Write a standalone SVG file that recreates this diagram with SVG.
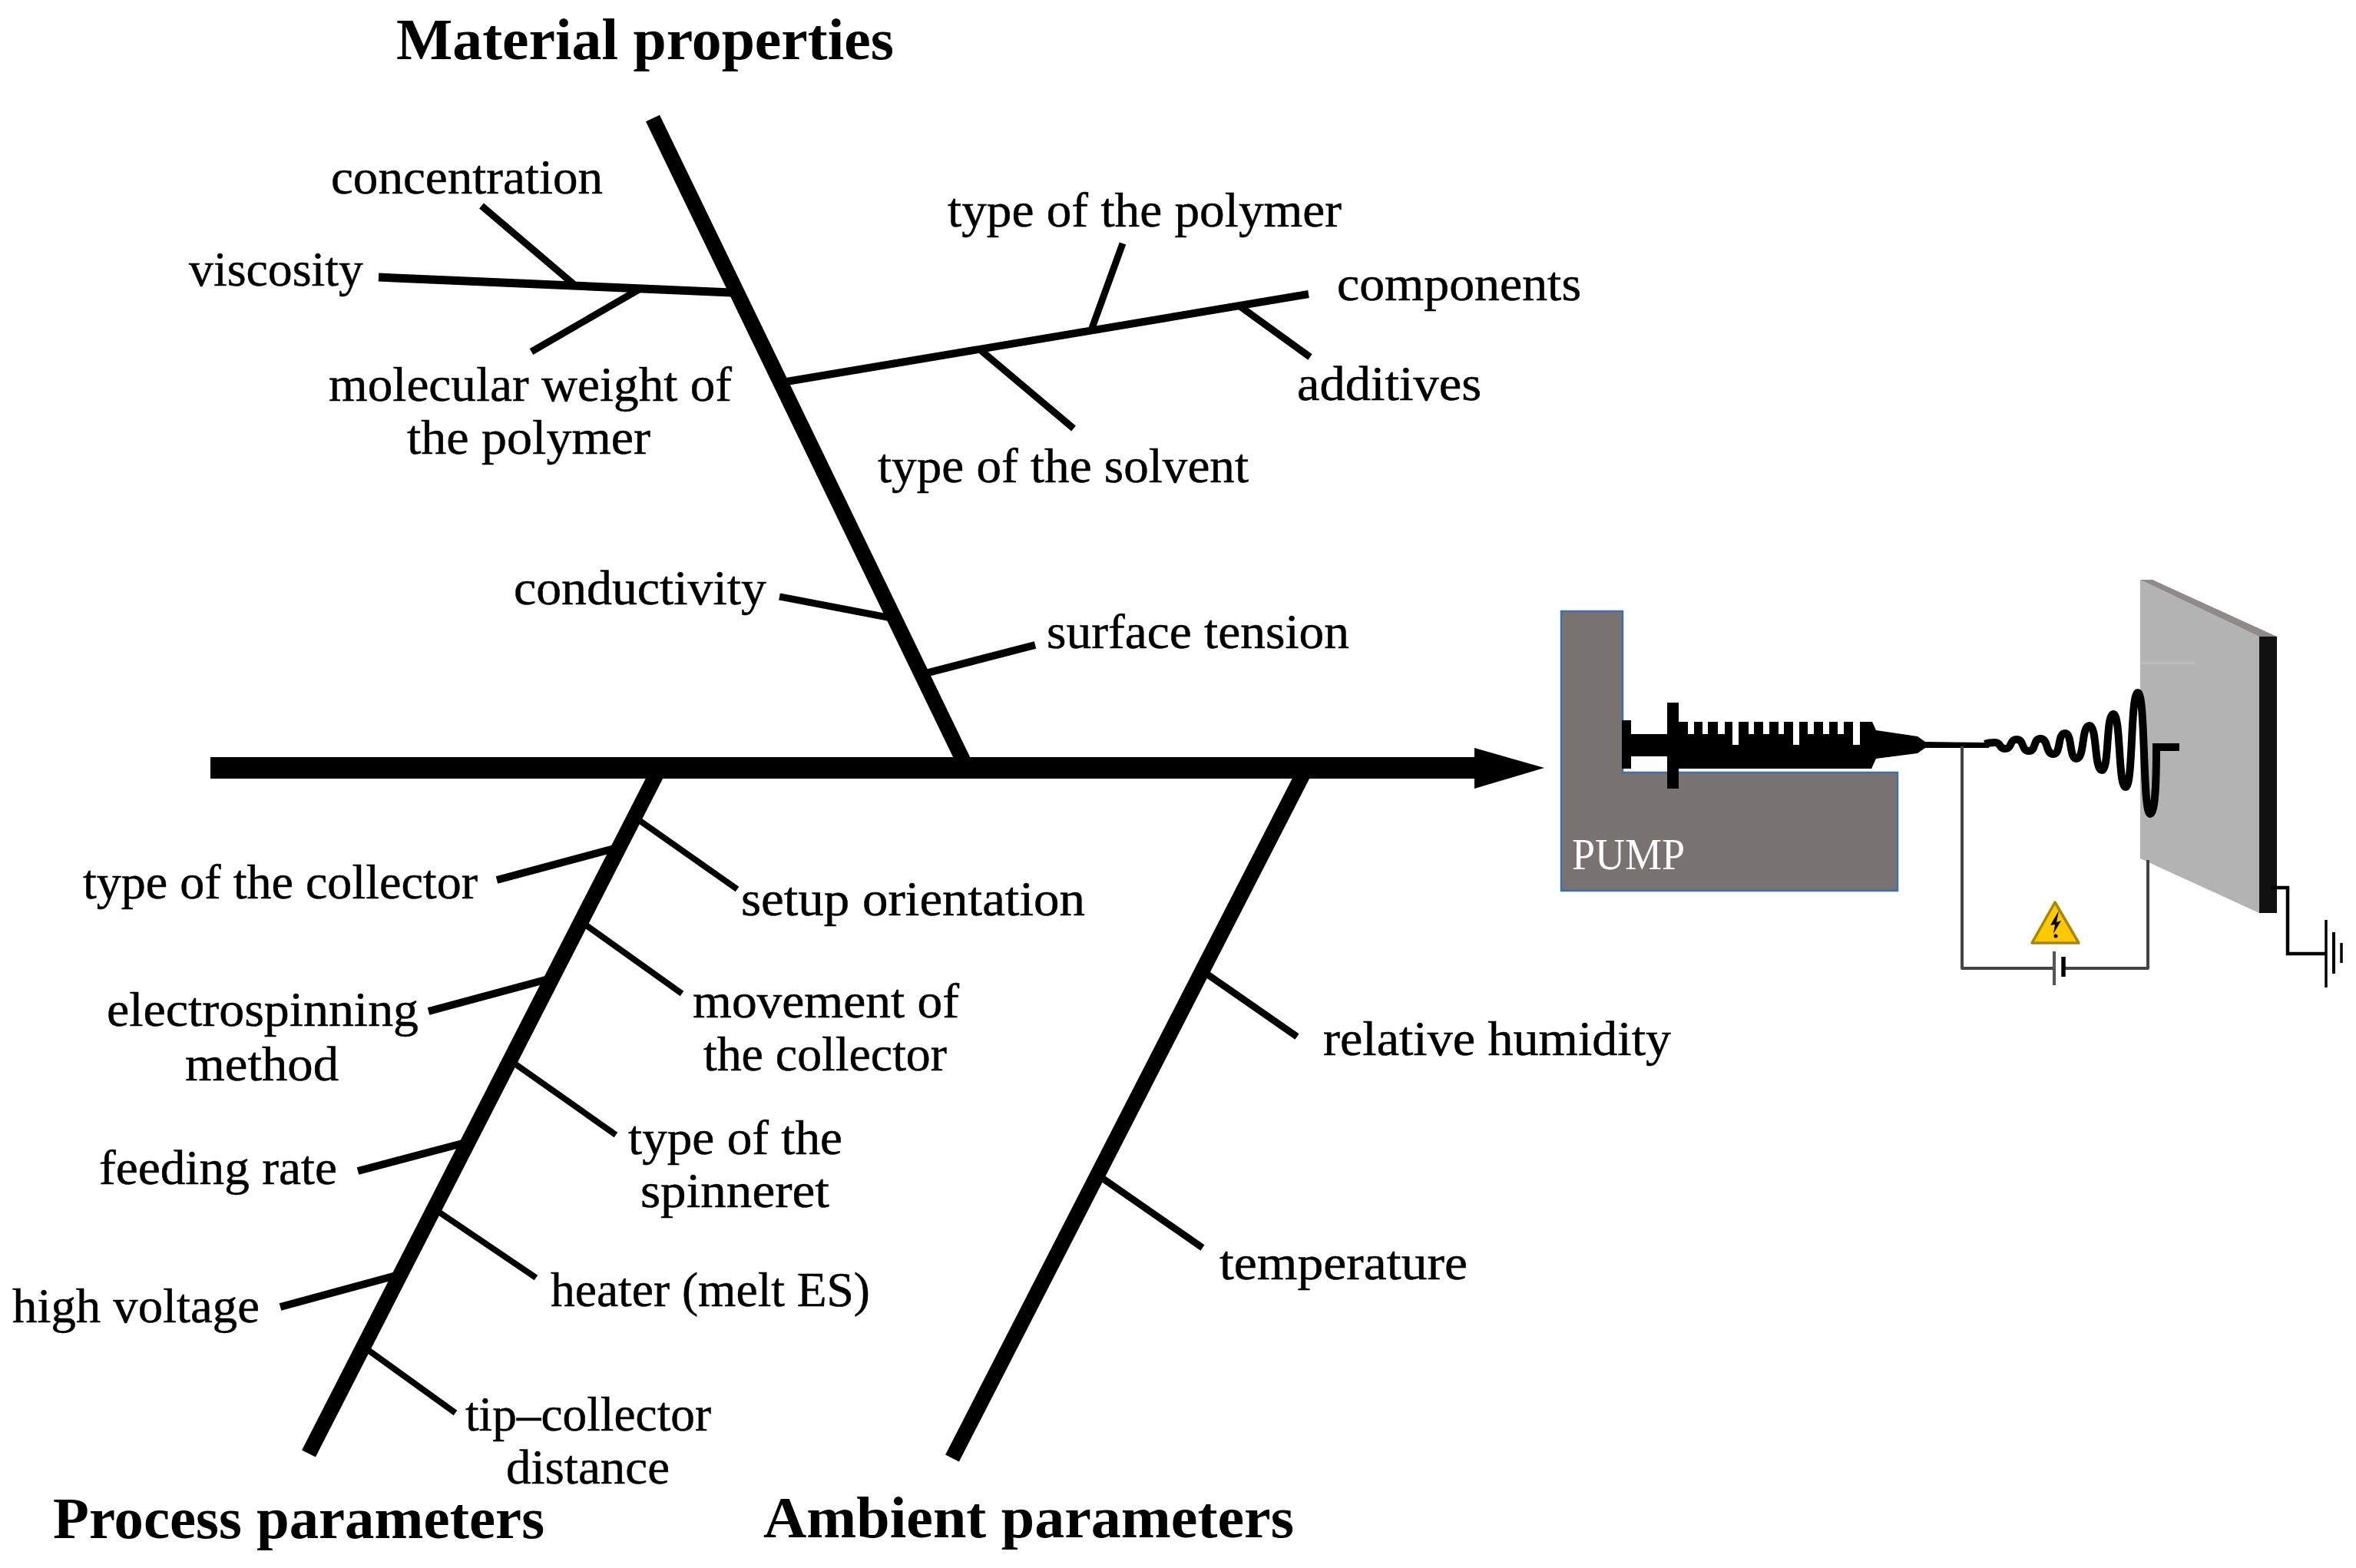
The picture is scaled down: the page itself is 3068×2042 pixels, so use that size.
<svg xmlns="http://www.w3.org/2000/svg" width="3068" height="2042" viewBox="0 0 3068 2042">
<defs>
<style>
text{font-family:"Liberation Serif","DejaVu Serif",serif;fill:#000}
.l{font-size:64px;stroke:#000;stroke-width:.5}
.h{font-size:76px;font-weight:bold}
.spine{stroke:#000;stroke-width:20;fill:none}
.b{stroke:#000;stroke-width:10;fill:none}
.n{fill:#fff}
.w{stroke:#444;stroke-width:4;fill:none;stroke-linejoin:round}
.g{stroke:#000;fill:none}
</style>
</defs>
<rect width="3068" height="2042" fill="#fff"/>
<g id="connectors">
<rect x="274" y="986" width="1650" height="28" fill="#000"/>
<polygon points="1920,974 2011,1000 1920,1027" fill="#000"/>
<line class="spine" x1="850" y1="154" x2="1256" y2="994"/>
<line class="spine" x1="855" y1="1008" x2="402" y2="1893"/>
<line class="spine" style="stroke-width:20" x1="1697" y1="1008" x2="1240" y2="1899"/>
<line class="b" style="stroke-width:11" x1="493" y1="361" x2="952" y2="381"/>
<line class="b" style="stroke-width:9" x1="627" y1="268" x2="748" y2="371"/>
<line class="b" style="stroke-width:9" x1="692" y1="458" x2="832" y2="377"/>
<line class="b" x1="1024" y1="497" x2="1704" y2="383"/>
<line class="b" style="stroke-width:9" x1="1462" y1="317" x2="1421" y2="430"/>
<line class="b" style="stroke-width:9" x1="1398" y1="558" x2="1277" y2="456"/>
<line class="b" style="stroke-width:9" x1="1706" y1="465" x2="1612" y2="397"/>
<line class="b" style="stroke-width:9" x1="1015" y1="777" x2="1156" y2="804"/>
<line class="b" x1="1348" y1="840" x2="1205" y2="877"/>
<line class="b" x1="647" y1="1146" x2="800" y2="1105"/>
<line class="b" style="stroke-width:8" x1="960" y1="1158" x2="832" y2="1068"/>
<line class="b" x1="558" y1="1317" x2="714" y2="1275"/>
<line class="b" style="stroke-width:8" x1="888" y1="1294" x2="762" y2="1204"/>
<line class="b" style="stroke-width:8" x1="802" y1="1478" x2="670" y2="1385"/>
<line class="b" x1="466" y1="1525" x2="606" y2="1488"/>
<line class="b" style="stroke-width:8" x1="698" y1="1664" x2="568" y2="1576"/>
<line class="b" x1="365" y1="1702" x2="516" y2="1661"/>
<line class="b" style="stroke-width:8" x1="593" y1="1840" x2="475" y2="1755"/>
<line class="b" style="stroke-width:9" x1="1689" y1="1350" x2="1571" y2="1268"/>
<line class="b" style="stroke-width:9" x1="1566" y1="1625" x2="1435" y2="1534"/>
</g>
<g id="title-material"><text class="h" x="516" y="77" textLength="648" lengthAdjust="spacingAndGlyphs">Material properties</text></g>
<g id="title-process"><text class="h" x="69" y="2003" textLength="640" lengthAdjust="spacingAndGlyphs">Process parameters</text></g>
<g id="title-ambient"><text class="h" x="994" y="2002" textLength="691" lengthAdjust="spacingAndGlyphs">Ambient parameters</text></g>
<g id="concentration"><text class="l" x="431" y="252" textLength="354" lengthAdjust="spacingAndGlyphs">concentration</text></g>
<g id="viscosity"><text class="l" x="246" y="372" textLength="227" lengthAdjust="spacingAndGlyphs">viscosity</text></g>
<g id="molecular-weight"><text class="l" x="428" y="522" textLength="525" lengthAdjust="spacingAndGlyphs">molecular weight of</text><text class="l" x="530" y="591" textLength="317" lengthAdjust="spacingAndGlyphs">the polymer</text></g>
<g id="type-polymer"><text class="l" x="1234" y="295" textLength="513" lengthAdjust="spacingAndGlyphs">type of the polymer</text></g>
<g id="components"><text class="l" x="1741" y="391" textLength="318" lengthAdjust="spacingAndGlyphs">components</text></g>
<g id="additives"><text class="l" x="1689" y="521" textLength="240" lengthAdjust="spacingAndGlyphs">additives</text></g>
<g id="type-solvent"><text class="l" x="1143" y="628" textLength="483" lengthAdjust="spacingAndGlyphs">type of the solvent</text></g>
<g id="conductivity"><text class="l" x="669" y="787" textLength="329" lengthAdjust="spacingAndGlyphs">conductivity</text></g>
<g id="surface-tension"><text class="l" x="1363" y="844" textLength="394" lengthAdjust="spacingAndGlyphs">surface tension</text></g>
<g id="type-collector"><text class="l" x="108" y="1170" textLength="514" lengthAdjust="spacingAndGlyphs">type of the collector</text></g>
<g id="setup-orientation"><text class="l" x="965" y="1192" textLength="448" lengthAdjust="spacingAndGlyphs">setup orientation</text></g>
<g id="electrospinning-method"><text class="l" x="139" y="1336" textLength="406" lengthAdjust="spacingAndGlyphs">electrospinning</text><text class="l" x="241" y="1407" textLength="200" lengthAdjust="spacingAndGlyphs">method</text></g>
<g id="movement-collector"><text class="l" x="902" y="1325" textLength="347" lengthAdjust="spacingAndGlyphs">movement of</text><text class="l" x="916" y="1394" textLength="317" lengthAdjust="spacingAndGlyphs">the collector</text></g>
<g id="type-spinneret"><text class="l" x="818" y="1503" textLength="279" lengthAdjust="spacingAndGlyphs">type of the</text><text class="l" x="834" y="1572" textLength="246" lengthAdjust="spacingAndGlyphs">spinneret</text></g>
<g id="feeding-rate"><text class="l" x="129" y="1542" textLength="310" lengthAdjust="spacingAndGlyphs">feeding rate</text></g>
<g id="heater"><text class="l" x="717" y="1701" textLength="416" lengthAdjust="spacingAndGlyphs">heater (melt ES)</text></g>
<g id="high-voltage"><text class="l" x="16" y="1722" textLength="322" lengthAdjust="spacingAndGlyphs">high voltage</text></g>
<g id="tip-collector"><text class="l" x="606" y="1863" textLength="320" lengthAdjust="spacingAndGlyphs">tip–collector</text><text class="l" x="659" y="1932" textLength="213" lengthAdjust="spacingAndGlyphs">distance</text></g>
<g id="relative-humidity"><text class="l" x="1723" y="1374" textLength="453" lengthAdjust="spacingAndGlyphs">relative humidity</text></g>
<g id="temperature"><text class="l" x="1588" y="1666" textLength="323" lengthAdjust="spacingAndGlyphs">temperature</text></g>
<g id="pump">
<polygon points="2033,796 2113,796 2113,1006 2471,1006 2471,1160 2033,1160" fill="#787270" stroke="#3f6fae" stroke-width="2.5"/>
<text x="2047" y="1132" style="font-size:56px;fill:#fff" textLength="147" lengthAdjust="spacingAndGlyphs">PUMP</text>
</g>
<g id="syringe">
<polygon points="2112,938 2124,938 2124,956 2171,956 2171,915 2186,915 2186,940 2438,940 2443,951 2497,959 2507,966 2590,967 2590,974 2507,974 2497,981 2443,988 2437,1001 2186,1001 2186,1027 2171,1027 2171,985 2124,985 2124,1001 2112,1001" fill="#000"/>
<rect class="n" x="2198" y="940" width="8" height="16"/>
<rect class="n" x="2217" y="940" width="7" height="16"/>
<rect class="n" x="2237" y="940" width="9" height="16"/>
<rect class="n" x="2256" y="940" width="8" height="30"/>
<rect class="n" x="2277" y="940" width="7" height="16"/>
<rect class="n" x="2296" y="940" width="8" height="16"/>
<rect class="n" x="2316" y="940" width="7" height="16"/>
<rect class="n" x="2335" y="940" width="8" height="30"/>
<rect class="n" x="2354" y="940" width="8" height="16"/>
<rect class="n" x="2374" y="940" width="8" height="16"/>
<rect class="n" x="2393" y="940" width="8" height="16"/>
<rect class="n" x="2413" y="940" width="9" height="30"/>
</g>
<g id="collector">
<polygon points="2787,755 2942,829 2942,1189 2787,1118" fill="#b3b3b3"/>
<polygon points="2787,755 2803,755 2965,829 2942,829" fill="#8f8a8a"/>
<rect x="2788" y="862" width="70" height="3" fill="#bcbcbc"/>
<rect x="2942" y="829" width="23" height="360" fill="#111"/>
</g>
<g id="jet">
<path d="M2585,969 C2590,967 2593,967 2598,967 C2606,967 2603,975 2611,975 C2621,975 2616,963 2626,963 C2636,963 2632,978 2642,978 C2652,978 2647,962 2657,962 C2668,962 2663,982 2674,982 C2684,982 2679,955 2689,955 C2699,955 2694,988 2704,988 C2715,988 2710,945 2721,945 C2731,945 2727,1003 2737,1003 C2747,1003 2742,930 2752,930 C2762,930 2758,1025 2768,1025 C2778,1025 2774,902 2784,902 C2794,902 2790,1060 2800,1060 C2807,1060 2808,1010 2808,973 L2838,973" fill="none" stroke="#000" stroke-width="10"/>
</g>
<g id="voltage-circuit">
<path class="w" d="M2555,972 V1261 H2675 M2687,1261 H2797 V1120"/>
<line x1="2675" y1="1239" x2="2675" y2="1283" stroke="#555" stroke-width="4"/>
<line x1="2687" y1="1246" x2="2687" y2="1272" stroke="#000" stroke-width="5.5"/>
</g>
<g id="warning-sign">
<polygon points="2676,1175 2707,1228 2646,1228" fill="#ffc800" stroke="#a88600" stroke-width="3.5" stroke-linejoin="round"/>
<polygon points="2681,1186 2670,1205 2676,1204 2674,1216 2684,1199 2678,1201" fill="#000"/>
<circle cx="2677" cy="1219" r="2.5" fill="#000"/>
</g>
<g id="ground">
<path class="g" stroke-width="4.5" d="M2957,1156 H2979 V1242 H3029"/>
<line class="g" stroke-width="3.5" x1="3029" y1="1198" x2="3029" y2="1286"/>
<line class="g" stroke-width="4" x1="3039" y1="1214" x2="3039" y2="1268"/>
<line class="g" stroke-width="3.5" x1="3049" y1="1228" x2="3049" y2="1254"/>
</g>
</svg>
